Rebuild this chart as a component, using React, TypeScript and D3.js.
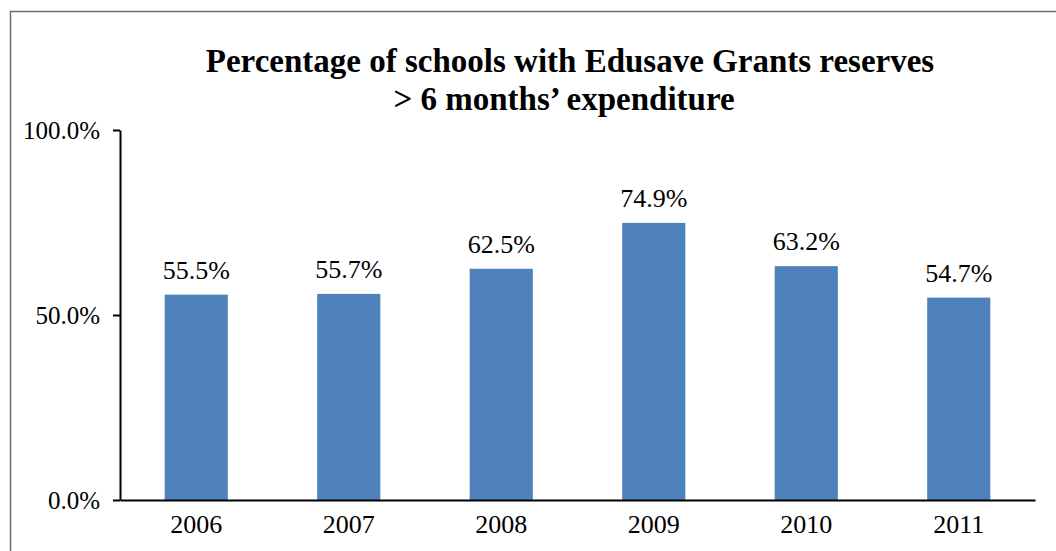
import React, { useEffect, useRef } from "react";
import * as d3 from "d3";

const years = ["2006", "2007", "2008", "2009", "2010", "2011"];
const values = [55.5, 55.7, 62.5, 74.9, 63.2, 54.7];
const yTicks = [0, 50, 100];
const titleLines = ["Percentage of schools with Edusave Grants reserves", "> 6 months\u2019 expenditure"];

const W = 1056;
const H = 551;

export default function App() {
  const ref = useRef<SVGSVGElement>(null);
  useEffect(() => {
    const svg = d3.select(ref.current);
    svg.selectAll("*").remove();
    const font = "'Liberation Serif', 'Times New Roman', serif";
    const left = 120, right = 1035, top = 130, bottom = 500;

    // outer border
    svg.append("path")
      .attr("d", `M10.5,${H + 2} L10.5,11.5 L${W + 2},11.5`)
      .attr("fill", "none").attr("stroke", "#6e6e6e").attr("stroke-width", 1.5);

    const x = d3.scaleBand().domain(years).range([left, right]).paddingInner(0.586).paddingOuter(0.293);
    const y = d3.scaleLinear().domain([0, 100]).range([bottom, top]);

    // title
    const t = svg.append("text").attr("font-family", font).attr("font-weight", "bold")
      .attr("font-size", 33).attr("text-anchor", "middle").attr("fill", "#000");
    t.append("tspan").attr("x", 570).attr("y", 72).text(titleLines[0]);
    t.append("tspan").attr("x", 564).attr("y", 110).text(titleLines[1]);

    // bars
    svg.append("g").selectAll("rect").data(values).join("rect")
      .attr("x", (_, i) => x(years[i])!)
      .attr("width", x.bandwidth())
      .attr("y", d => y(d))
      .attr("height", d => y(0) - y(d))
      .attr("fill", "#4F81BD");

    // data labels
    svg.append("g").selectAll("text").data(values).join("text")
      .attr("x", (_, i) => x(years[i])! + x.bandwidth() / 2)
      .attr("y", d => y(d) - 16)
      .attr("text-anchor", "middle").attr("font-family", font).attr("font-size", 26).attr("fill", "#000")
      .text(d => d.toFixed(1) + "%");

    // y axis
    const ya = svg.append("g").attr("transform", `translate(${left},0)`)
      .call(d3.axisLeft(y).tickValues(yTicks).tickSize(7).tickSizeOuter(0).tickPadding(13)
        .tickFormat(d => (d as number).toFixed(1) + "%"));
    ya.select(".domain").attr("stroke", "#000").attr("stroke-width", 2);
    ya.selectAll(".tick line").attr("stroke", "#000").attr("stroke-width", 2);
    ya.selectAll(".tick text").attr("font-family", font).attr("font-size", 25).attr("fill", "#000");

    // x axis
    const xa = svg.append("g").attr("transform", `translate(0,${bottom})`)
      .call(d3.axisBottom(x).tickSize(0).tickSizeOuter(0).tickPadding(15));
    xa.select(".domain").attr("stroke", "#000").attr("stroke-width", 2);
    xa.selectAll(".tick text").attr("font-family", font).attr("font-size", 26).attr("fill", "#000");
  }, []);

  return (
    <svg ref={ref} width={W} height={H}
      style={{ position: "absolute", left: 0, top: 0, display: "block", background: "#fff" }} />
  );
}
